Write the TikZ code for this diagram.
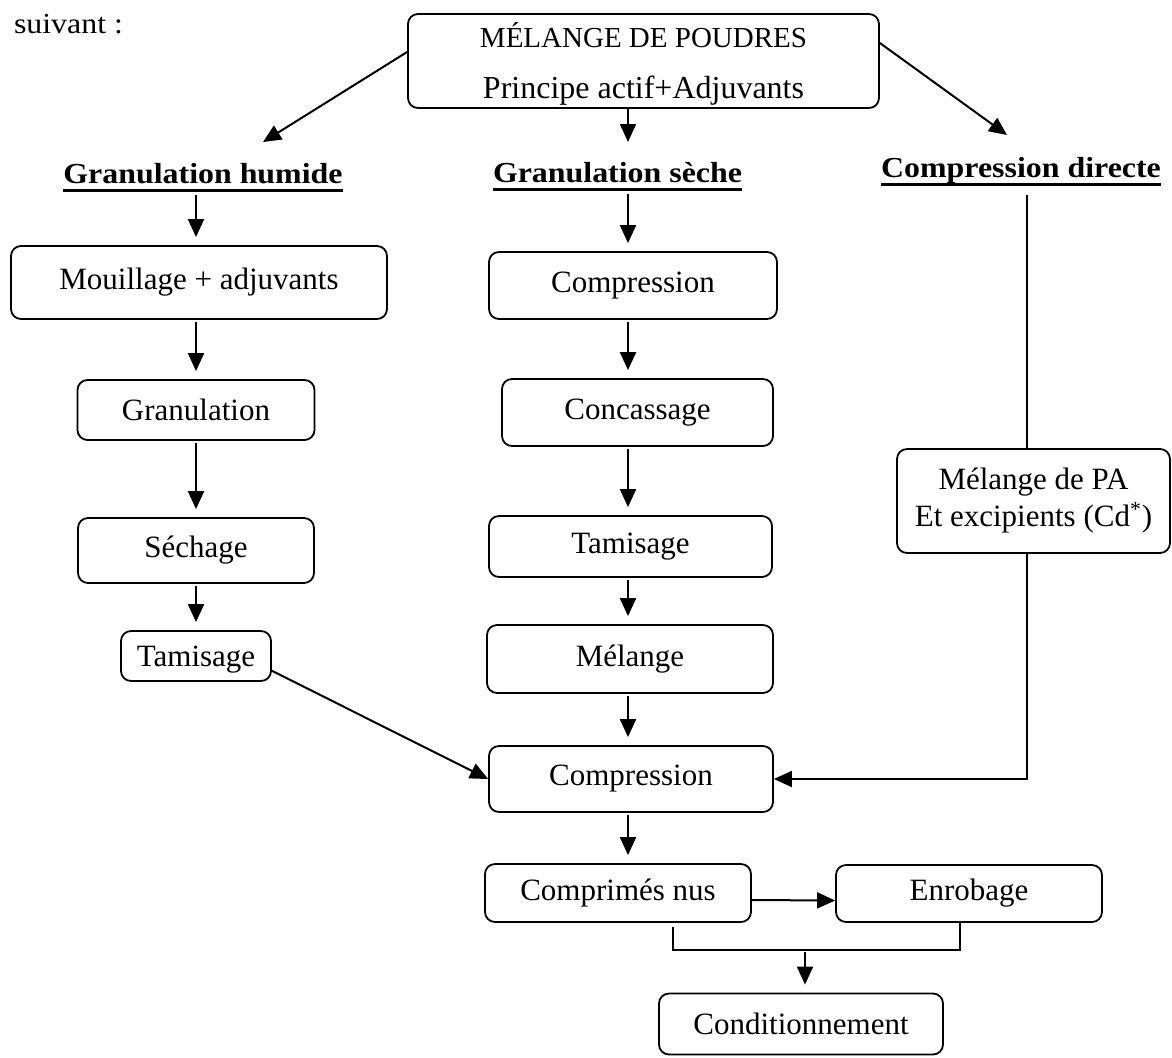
\documentclass[tikz,border=0pt]{standalone}
\usepackage{fontspec}
\setmainfont{Liberation Serif}
\newfontfamily\hdfont[FakeStretch=1.1]{Liberation Serif}
\usetikzlibrary{arrows.meta,positioning,calc}
\tikzstyle{box} =[draw, rounded corners=5pt, line width=0.9pt,
                  font=\fontsize{15.5}{18.5}\selectfont, align=center,
                  inner sep=0pt]
\tikzstyle{head}=[font=\hdfont\fontsize{14.5}{16}\selectfont\bfseries,
                  inner sep=0pt, anchor=base]
\tikzstyle{edge}=[line width=1pt, >={Triangle[length=9pt,width=8pt]}]
\tikzstyle{down}=[shorten >=4pt, shorten <=1pt]
\newcommand{\hdul}[1]{\setbox0=\hbox{#1}\rlap{\raisebox{-4.5pt}{\rule{\wd0}{1.5pt}}}\box0}

\begin{document}
\begin{tikzpicture}[x=0.5pt, y=-0.5pt, edge]
    \useasboundingbox (0,0) rectangle (1172,1057);
    \node[anchor=base west, inner sep=0pt,
          font=\hdfont\fontsize{14.5}{16}\selectfont] (suiv) at (13,33) {suivant :};

    % melange de depart
    \node[box, minimum width=235.5pt, minimum height=47pt] (top) at (643.5,61) {};
    \node[anchor=base, inner sep=0pt, font=\fontsize{14.5}{16}\selectfont]
        (topa) at (643.5,47) {MÉLANGE DE POUDRES};
    \node[anchor=base, inner sep=0pt, font=\fontsize{16}{19}\selectfont]
        (topb) at (643.5,98) {Principe actif+Adjuvants};

    % les trois voies
    \node[head] (gh) at (203,183) {\hdul{Granulation humide}};
    \node[head] (gs) at (617.5,182) {\hdul{Granulation sèche}};
    \node[head] (cd) at (1021,177) {\hdul{Compression directe}};
    \coordinate (lc) at (196,0);
    \coordinate (mc) at (628,0);
    \coordinate (rc) at (1027,0);
    \coordinate (tgh) at (263,142);
    \coordinate (tgs) at (628,142);
    \coordinate (tcd) at (1007,135);

    % voie humide
    \node[box, minimum width=188pt, minimum height=36.5pt] (mouil) at (199,282.5) {Mouillage + adjuvants};
    \node[box, minimum width=118.5pt, minimum height=30pt] (gran) at (196,410) {Granulation};
    \node[box, minimum width=118pt, minimum height=32.5pt] (sech) at (196,550.5) {Séchage};
    \node[box, minimum width=75pt, minimum height=25pt, text depth=0pt] (tamh) at (196,656) {Tamisage};

    % voie seche
    \node[box, minimum width=144pt, minimum height=33.5pt] (comps) at (633,285.5) {Compression};
    \node[box, minimum width=135.5pt, minimum height=33.5pt] (conc) at (637.5,412.5) {Concassage};
    \node[box, minimum width=141.5pt, minimum height=30.5pt] (tams) at (630.5,546.5) {Tamisage};
    \node[box, minimum width=143pt, minimum height=34pt] (mel) at (630,659) {Mélange};

    % compression directe
    \node[box, minimum width=136.5pt, minimum height=52pt]
        (melpa) at (1033.5,501) {Mélange de PA\\Et excipients (Cd\textsuperscript{*})};

    % suite commune
    \node[box, minimum width=142pt, minimum height=33pt] (comp) at (631,779) {Compression};
    \node[box, minimum width=133pt, minimum height=29pt] (nus) at (618,893) {Comprimés nus};
    \node[box, minimum width=133pt, minimum height=28.5pt] (enrob) at (969,893.5) {Enrobage};
    \node[box, minimum width=142pt, minimum height=30.5pt] (cond) at (801,1024) {Conditionnement};
    \coordinate (jl) at (673,950);
    \coordinate (jr) at (960,950);
    \coordinate (jm) at (805,950);

    \draw[->] ([yshift=4.5pt]top.west) -- (tgh);
    \draw[->] (top.south -| tgs) -- (tgs);
    \draw[->] ([yshift=9pt]top.east) -- (tcd);

    \draw[->, down] (gh.south -| lc) -- (mouil.north -| lc);
    \foreach \a/\b in {mouil/gran, gran/sech, sech/tamh}
        \draw[->, down] (\a.south -| lc) -- (\b.north -| lc);
    \draw[->, down] (gs.south -| mc) -- (comps.north -| mc);
    \foreach \a/\b in {comps/conc, conc/tams, tams/mel, mel/comp, comp/nus}
        \draw[->, down] (\a.south -| mc) -- (\b.north -| mc);

    \draw[->] (tamh.-11) -- (comp.west);
    \draw[shorten <=4pt] (cd.south -| rc) -- (melpa.north -| rc);
    \draw[->] (melpa.south -| rc) |- (comp.east);

    \draw[->] ([yshift=-3.5pt]nus.east) -- ([yshift=-3.5pt]enrob.west);
    \draw[shorten <=2pt] (nus.south -| jl) -- (jl) -- (jr) -- (enrob.south -| jr);
    \draw[->, down] (jm) -- (cond.north -| jm);
\end{tikzpicture}
\end{document}
